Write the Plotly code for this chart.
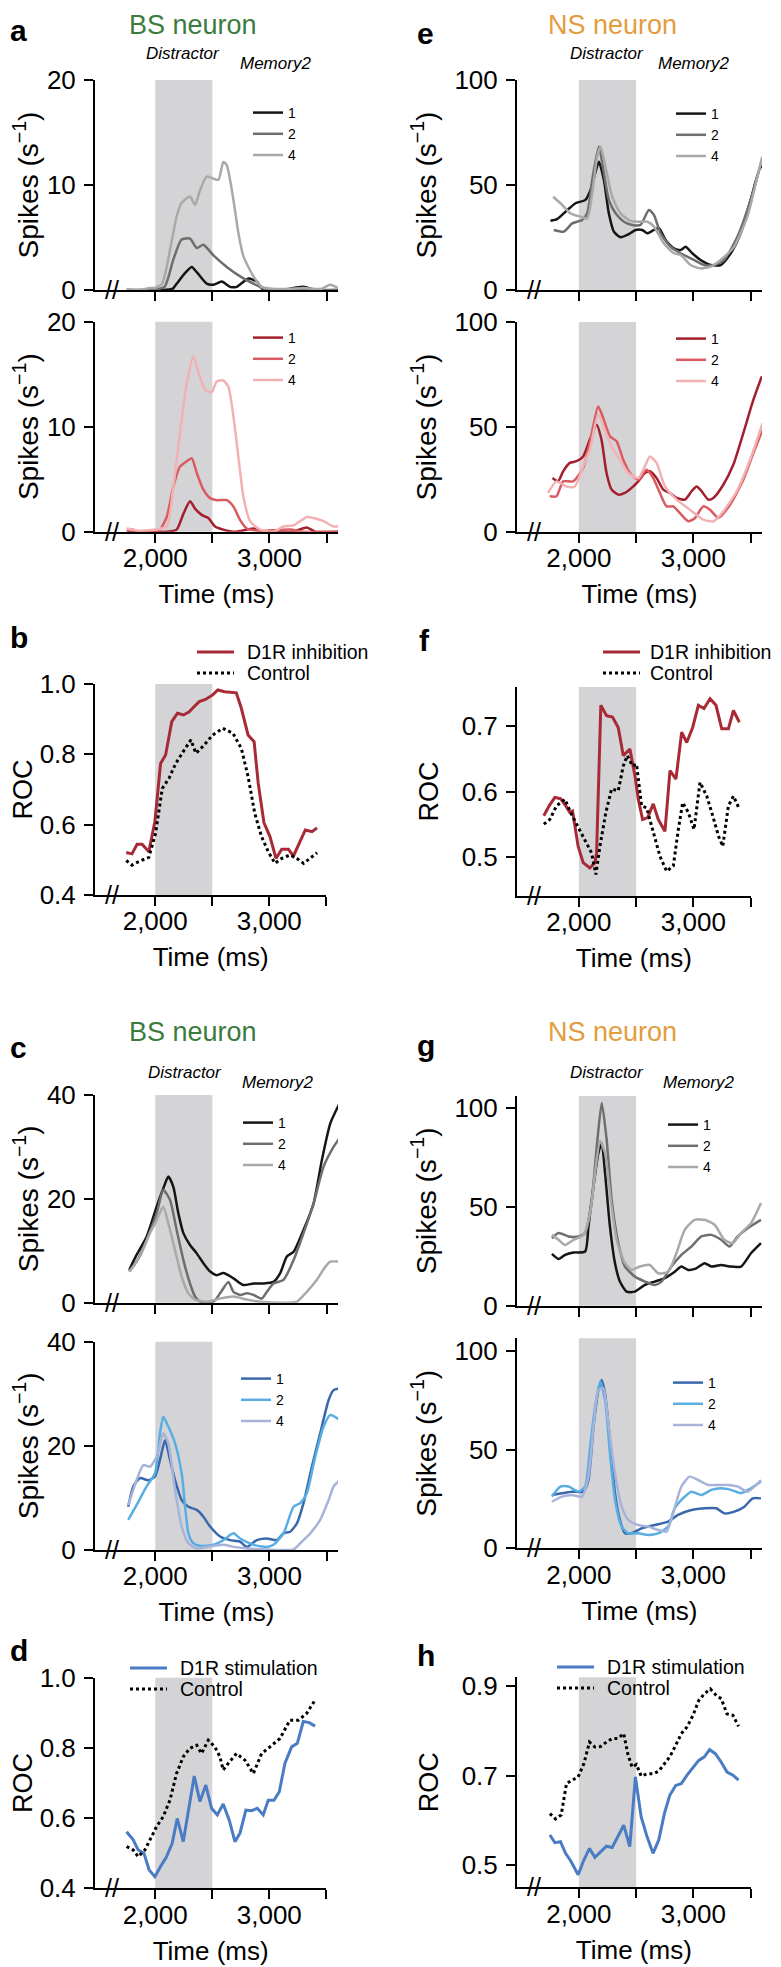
import plotly.graph_objects as go

# The page body adds an 8px margin; the figure is sized/offset so that it fills the window exactly.
OFF = 8
W, H = 781 - OFF, 1967 - OFF
FONT = "Liberation Sans, Arial, Helvetica, sans-serif"


def PX(x):
    return (x - OFF) / W


def PY(y):
    return 1 - (y - OFF) / H


# ---------------- data (time in ms) ----------------
# a (top): BS neuron, control, loads 1 / 2 / 4
a_top_t1 = [1750, 1900, 2050, 2150, 2187, 2260, 2319, 2363, 2450, 2509, 2582, 2655, 2713, 2816, 2889, 2947, 3100, 3298, 3400, 3600]
a_top_v1 = [0, 0, 0, 0.1, 0.6, 1.6, 2.2, 1.7, 0.6, 0.5, 0.8, 0.3, 0.3, 1.1, 0.8, 0, 0, 0.3, 0, 0]
a_top_t2 = [1750, 1950, 2080, 2158, 2230, 2304, 2363, 2421, 2509, 2626, 2743, 2860, 2947, 3100, 3300, 3600]
a_top_v2 = [0, 0, 0.3, 2.9, 4.8, 4.9, 4.0, 4.3, 3.3, 2.2, 1.3, 0.6, 0.15, 0, 0, 0]
a_top_t4 = [1750, 1870, 1950, 2000, 2060, 2100, 2187, 2230, 2304, 2348, 2392, 2450, 2509, 2553, 2596, 2626, 2684, 2728, 2772, 2860, 2933, 3000, 3150, 3300, 3450, 3532, 3600]
a_top_v4 = [0, 0, 0.2, 0.2, 0.6, 2.2, 7.0, 8.3, 8.9, 8.1, 9.5, 10.8, 10.6, 10.5, 12.2, 11.9, 8.6, 5.4, 3.2, 1.3, 0.3, 0.15, 0.1, 0.2, 0.1, 0.5, 0.2]

# a (bottom): BS neuron, D1R inhibition
a_bot_t1 = [1750, 2100, 2187, 2246, 2304, 2348, 2406, 2465, 2523, 2596, 2700, 2860, 2950, 3200, 3327, 3400, 3600]
a_bot_v1 = [0, 0, 0.2, 1.7, 2.9, 2.2, 1.6, 1.3, 0.5, 0.2, 0, 0.3, 0, 0, 0.4, 0, 0]
a_bot_t2 = [1750, 1800, 1850, 2000, 2041, 2100, 2158, 2216, 2275, 2319, 2363, 2421, 2480, 2538, 2626, 2684, 2743, 2801, 2900, 3181, 3300, 3600]
a_bot_v2 = [0.2, 0.2, 0, 0, 0.2, 1.4, 4.3, 6.2, 6.7, 7.0, 5.6, 4.0, 3.2, 3.0, 3.0, 2.4, 1.1, 0.3, 0.1, 0.2, 0, 0]
a_bot_t4 = [1750, 1850, 2000, 2100, 2158, 2216, 2275, 2333, 2377, 2436, 2494, 2538, 2596, 2640, 2684, 2728, 2772, 2830, 2918, 3035, 3123, 3211, 3327, 3386, 3474, 3561, 3605]
a_bot_v4 = [0.3, 0.1, 0.2, 0.5, 4.3, 9.4, 14.1, 16.7, 15.2, 13.5, 13.3, 14.3, 14.4, 13.8, 11.0, 7.1, 3.3, 1.0, 0.2, 0, 0.5, 0.6, 1.4, 1.3, 1.0, 0.5, 0.5]

# b: ROC, BS neuron
b_drug_t = [1746, 1796, 1841, 1885, 1944, 1997, 2047, 2091, 2145, 2195, 2248, 2298, 2342, 2386, 2440, 2504, 2549, 2608, 2711, 2755, 2814, 2867, 2903, 2953, 3006, 3059, 3109, 3168, 3212, 3271, 3316, 3375, 3419]
b_drug_v = [0.521, 0.517, 0.544, 0.544, 0.523, 0.609, 0.774, 0.798, 0.893, 0.917, 0.912, 0.921, 0.936, 0.950, 0.956, 0.969, 0.983, 0.978, 0.975, 0.931, 0.855, 0.836, 0.718, 0.606, 0.566, 0.504, 0.530, 0.530, 0.511, 0.556, 0.585, 0.580, 0.591]
b_ctl_t = [1746, 1796, 1855, 1944, 2003, 2062, 2121, 2180, 2254, 2313, 2357, 2416, 2504, 2593, 2681, 2755, 2814, 2873, 2932, 2991, 3050, 3109, 3183, 3242, 3301, 3360, 3419]
b_ctl_v = [0.498, 0.485, 0.495, 0.507, 0.575, 0.703, 0.732, 0.774, 0.812, 0.841, 0.803, 0.822, 0.855, 0.874, 0.860, 0.817, 0.737, 0.632, 0.566, 0.523, 0.490, 0.504, 0.514, 0.504, 0.490, 0.504, 0.520]

# c (top): BS neuron, control
c_top_t1 = [1772, 1836, 1924, 2012, 2070, 2114, 2158, 2202, 2246, 2304, 2363, 2421, 2480, 2538, 2596, 2684, 2772, 2860, 2947, 3035, 3094, 3152, 3211, 3298, 3386, 3459, 3532, 3614]
c_top_v1 = [6.3, 9.2, 12.7, 18.5, 22, 24.3, 22.3, 17.2, 13.4, 11.1, 9.5, 7.6, 6, 5.3, 5.7, 4.7, 3.4, 3.7, 3.7, 4, 5.7, 8.9, 9.8, 14, 19.1, 27.5, 34.5, 38.4]
c_top_t2 = [1772, 1836, 1924, 2012, 2070, 2129, 2187, 2246, 2304, 2348, 2392, 2509, 2567, 2640, 2684, 2743, 2801, 2860, 2933, 2977, 3035, 3123, 3211, 3298, 3386, 3474, 3561, 3614]
c_top_v2 = [6, 7.9, 12.1, 17.2, 21.7, 19.8, 14, 8.2, 3.7, 1.2, 0.2, 0.2, 1.8, 4, 2.1, 1.5, 1.8, 1.5, 0.8, 2.1, 3.7, 4.4, 8.2, 13.4, 19.1, 26.2, 30, 31.7]
c_top_t4 = [1772, 1866, 1953, 2012, 2070, 2114, 2173, 2231, 2290, 2348, 2450, 2567, 2684, 2801, 2918, 3152, 3240, 3327, 3415, 3488, 3532, 3614]
c_top_v4 = [6, 8.9, 13.4, 15.9, 18.5, 15.3, 10.1, 5, 1.8, 0.6, 0.2, 0.8, 1.2, 0.6, 0.2, 0, 0.2, 2.1, 4.4, 6.9, 7.9, 7.9]

# c (bottom): BS neuron, D1R stimulation
c_bot_t1 = [1763, 1807, 1866, 1939, 1997, 2041, 2085, 2129, 2173, 2231, 2290, 2363, 2421, 2480, 2567, 2655, 2743, 2801, 2889, 2977, 3064, 3123, 3181, 3240, 3298, 3371, 3444, 3518, 3561, 3614]
c_bot_v1 = [8.3, 12.2, 13.8, 13.4, 14.1, 17.3, 21.1, 17.3, 13.4, 9.6, 8.3, 7.7, 6.4, 4.5, 2.6, 1.9, 1.6, 0.6, 1.9, 2.2, 1.9, 3.2, 3.5, 5.1, 9, 16, 22.4, 28.8, 30.7, 31]
c_bot_t2 = [1763, 1836, 1924, 1997, 2041, 2070, 2114, 2173, 2231, 2290, 2333, 2392, 2509, 2596, 2684, 2743, 2860, 2977, 3035, 3123, 3211, 3269, 3327, 3401, 3474, 3532, 3614]
c_bot_v2 = [5.8, 8.6, 12.2, 14.7, 22.4, 25.6, 23.7, 20.5, 14.7, 3.2, 1.3, 0.8, 1, 1.9, 3.2, 2.2, 1, 0.6, 1, 3.2, 8.3, 9, 10.9, 17.9, 23.7, 25.9, 25]
c_bot_t4 = [1763, 1836, 1895, 1953, 2012, 2070, 2114, 2173, 2231, 2290, 2363, 2450, 2596, 2684, 2801, 2977, 3211, 3269, 3357, 3444, 3518, 3561, 3614]
c_bot_v4 = [8.6, 13.4, 16.3, 16, 17.9, 22.4, 20.5, 11.5, 4.5, 1.3, 0.3, 0.6, 1, 0.6, 0.3, 0.1, 0.1, 1.3, 3.2, 5.8, 9.6, 12.2, 13.4]

# d: ROC, BS neuron
d_drug_t = [1749, 1807, 1851, 1901, 1947, 1997, 2047, 2099, 2149, 2193, 2246, 2295, 2342, 2392, 2444, 2494, 2544, 2596, 2649, 2699, 2743, 2795, 2845, 2895, 2947, 2991, 3041, 3088, 3137, 3196, 3246, 3298, 3351, 3401]
d_drug_v = [0.561, 0.538, 0.509, 0.500, 0.452, 0.433, 0.462, 0.490, 0.528, 0.599, 0.533, 0.632, 0.720, 0.647, 0.694, 0.628, 0.609, 0.640, 0.594, 0.533, 0.557, 0.623, 0.621, 0.628, 0.609, 0.651, 0.651, 0.675, 0.756, 0.803, 0.813, 0.875, 0.872, 0.862]
d_ctl_t = [1749, 1807, 1851, 1909, 1968, 2012, 2070, 2129, 2187, 2246, 2304, 2363, 2406, 2465, 2523, 2567, 2596, 2640, 2713, 2787, 2860, 2933, 3006, 3094, 3181, 3255, 3327, 3401]
d_ctl_v = [0.519, 0.509, 0.490, 0.509, 0.547, 0.576, 0.604, 0.651, 0.727, 0.775, 0.799, 0.808, 0.784, 0.822, 0.803, 0.775, 0.737, 0.756, 0.784, 0.765, 0.727, 0.784, 0.803, 0.827, 0.879, 0.879, 0.898, 0.936]

# e (top): NS neuron, control
e_top_t1 = [1752, 1810, 1898, 1971, 2058, 2102, 2146, 2175, 2219, 2262, 2306, 2364, 2423, 2496, 2554, 2598, 2656, 2700, 2758, 2831, 2889, 2933, 2991, 3064, 3152, 3239, 3327, 3414, 3501, 3589, 3612]
e_top_v1 = [33, 33.7, 38, 41.3, 42.9, 47.6, 56.3, 61.1, 52.4, 36.5, 27.8, 25.1, 26.2, 28.6, 28.6, 27, 28.6, 29.4, 23.8, 19.8, 19, 20.6, 17.5, 14.3, 11.9, 11.9, 17.5, 27, 42.9, 58.7, 57.9]
e_top_t2 = [1781, 1869, 1942, 2029, 2073, 2117, 2175, 2219, 2262, 2321, 2394, 2467, 2539, 2612, 2656, 2714, 2802, 2889, 2977, 3094, 3181, 3268, 3385, 3501, 3603]
e_top_v2 = [28.6, 27.8, 31.7, 33.3, 36.5, 52.4, 68.3, 55.6, 42.9, 36.5, 32.5, 31, 31, 38.1, 35.7, 27, 20.6, 17.5, 15.1, 11.9, 11.9, 14.3, 25.4, 42.9, 62.7]
e_top_t4 = [1776, 1840, 1927, 2015, 2073, 2117, 2160, 2190, 2233, 2292, 2364, 2437, 2510, 2598, 2656, 2743, 2831, 2889, 2977, 3064, 3152, 3239, 3356, 3472, 3560, 3603]
e_top_v4 = [44.4, 41.3, 36.5, 34.9, 34.1, 46, 63.5, 68.3, 58.7, 44.4, 36.5, 33.3, 32.5, 32.5, 30.2, 22.2, 17.5, 16.7, 11.9, 10.3, 11.1, 14.3, 20.6, 34.9, 54, 63.5]

# e (bottom): NS neuron, D1R inhibition
e_bot_t1 = [1770, 1819, 1863, 1921, 1980, 2038, 2096, 2155, 2198, 2242, 2286, 2344, 2402, 2461, 2519, 2577, 2621, 2679, 2738, 2796, 2854, 2927, 2985, 3029, 3073, 3131, 3175, 3262, 3350, 3437, 3525, 3598]
e_bot_v1 = [25.7, 24.1, 28.9, 32.9, 33.7, 36, 44, 51.1, 44, 28.1, 20.2, 17.8, 18.6, 21, 24.1, 28.1, 28.9, 25.7, 20.2, 18.6, 16.2, 15.4, 19.4, 21.7, 19.4, 15.4, 16.2, 22.5, 32.1, 47.1, 63, 74.1]
e_bot_t2 = [1746, 1805, 1863, 1950, 2038, 2096, 2169, 2213, 2271, 2330, 2388, 2446, 2519, 2592, 2650, 2708, 2767, 2825, 2883, 2956, 3015, 3087, 3146, 3219, 3321, 3437, 3525, 3606]
e_bot_v2 = [17, 17, 24.1, 24.1, 30.5, 42.4, 59.8, 54.3, 45.6, 43.2, 34.4, 28.1, 24.9, 29.7, 25.7, 18.6, 12.2, 12.2, 9, 5.1, 6.7, 12.2, 10.6, 6.7, 13, 24.9, 37.6, 48.7]
e_bot_t4 = [1732, 1805, 1892, 1965, 2038, 2096, 2169, 2227, 2286, 2359, 2432, 2519, 2577, 2621, 2679, 2752, 2854, 2971, 3087, 3175, 3262, 3379, 3496, 3606]
e_bot_v4 = [18.6, 24.1, 21.7, 21.7, 31.3, 39.2, 55.9, 48.7, 40.8, 34.4, 28.1, 25.7, 31.3, 36, 32.9, 21.7, 15.4, 10.6, 5.9, 5.1, 9.8, 19.4, 34.4, 51.9]

# f: ROC, NS neuron
f_drug_t = [1694, 1741, 1790, 1840, 1886, 1921, 1945, 1965, 1994, 2038, 2096, 2140, 2155, 2192, 2242, 2294, 2344, 2388, 2446, 2490, 2519, 2557, 2601, 2650, 2694, 2752, 2796, 2848, 2898, 2942, 2994, 3044, 3093, 3146, 3198, 3248, 3306, 3350, 3402]
f_drug_v = [0.563, 0.578, 0.591, 0.589, 0.578, 0.568, 0.570, 0.547, 0.516, 0.491, 0.483, 0.491, 0.506, 0.732, 0.716, 0.714, 0.698, 0.655, 0.665, 0.624, 0.588, 0.557, 0.560, 0.581, 0.557, 0.539, 0.632, 0.619, 0.691, 0.675, 0.698, 0.732, 0.727, 0.742, 0.732, 0.696, 0.696, 0.724, 0.706]
f_ctl_t = [1694, 1746, 1805, 1878, 1936, 1994, 2052, 2111, 2149, 2184, 2236, 2286, 2344, 2388, 2423, 2469, 2504, 2548, 2592, 2650, 2708, 2767, 2825, 2869, 2907, 2956, 3006, 3058, 3117, 3169, 3219, 3257, 3306, 3350, 3402]
f_ctl_v = [0.550, 0.557, 0.578, 0.588, 0.565, 0.545, 0.527, 0.506, 0.473, 0.516, 0.568, 0.604, 0.601, 0.639, 0.655, 0.639, 0.642, 0.578, 0.575, 0.537, 0.501, 0.478, 0.486, 0.542, 0.583, 0.568, 0.542, 0.614, 0.593, 0.563, 0.532, 0.516, 0.578, 0.593, 0.573]

# g (top): NS neuron, control
g_top_t1 = [1765, 1823, 1881, 1954, 2055, 2084, 2128, 2171, 2200, 2229, 2272, 2316, 2359, 2417, 2490, 2577, 2664, 2751, 2838, 2896, 2954, 3026, 3099, 3157, 3243, 3316, 3417, 3504, 3591]
g_top_v1 = [26.2, 23.6, 25.7, 26.9, 27.4, 40, 60.3, 77.2, 82.3, 67.1, 40, 21.5, 12.2, 7.1, 7.1, 10.5, 12.2, 13.9, 17.2, 19.8, 18.1, 18.9, 21.5, 19.8, 20.6, 19.8, 19.8, 26.5, 31.6]
g_top_t2 = [1765, 1823, 1910, 1997, 2055, 2113, 2157, 2200, 2243, 2287, 2345, 2403, 2490, 2577, 2664, 2722, 2809, 2896, 2983, 3070, 3157, 3243, 3316, 3388, 3475, 3591]
g_top_v2 = [34.1, 36.7, 35, 35, 36.7, 53.6, 80.6, 102.5, 84, 53.6, 31.6, 19.8, 14.7, 12.2, 10.5, 12.2, 19.8, 25.7, 29.9, 35, 35.8, 33.3, 29.9, 35, 39.2, 43.4]
g_top_t4 = [1765, 1823, 1881, 1954, 2041, 2099, 2142, 2186, 2229, 2272, 2330, 2403, 2461, 2533, 2620, 2693, 2780, 2852, 2925, 3012, 3099, 3186, 3272, 3345, 3417, 3504, 3591]
g_top_v4 = [35.8, 33.3, 30.7, 33.3, 35.8, 46.8, 67.1, 83.1, 77.2, 56.9, 33.3, 21.5, 18.1, 19.8, 20.6, 16.4, 17.2, 26.5, 38.3, 43.4, 43.4, 40.9, 33.3, 31.6, 36.7, 41.7, 51.9]

# g (bottom): NS neuron, D1R stimulation
g_bot_t1 = [1765, 1852, 1939, 2041, 2084, 2128, 2171, 2200, 2229, 2272, 2316, 2359, 2403, 2461, 2548, 2664, 2780, 2867, 2983, 3099, 3200, 3272, 3359, 3446, 3519, 3591]
g_bot_v1 = [27, 27.9, 28.7, 28.7, 34.6, 61.5, 80.1, 85.3, 78.4, 54.9, 27.9, 14.4, 7.6, 7.6, 10.1, 11.8, 13.5, 16.9, 19.4, 20.3, 20.3, 17.7, 18.6, 21.1, 25.3, 25.3]
g_bot_t2 = [1765, 1838, 1910, 1997, 2055, 2099, 2142, 2186, 2229, 2272, 2316, 2374, 2432, 2519, 2606, 2693, 2780, 2838, 2896, 2983, 3070, 3157, 3243, 3330, 3417, 3504, 3591]
g_bot_v2 = [26.2, 31.3, 31.3, 28.7, 31.3, 51.6, 71.8, 84.5, 75.2, 48.2, 24.5, 11, 7.6, 7.6, 6.8, 7.6, 11, 20.3, 24.5, 28.7, 27, 29.6, 30.4, 29.6, 27.9, 30.4, 33.8]
g_bot_t4 = [1765, 1852, 1939, 2026, 2084, 2128, 2171, 2214, 2258, 2316, 2374, 2432, 2519, 2606, 2693, 2765, 2823, 2896, 2968, 3041, 3128, 3214, 3301, 3388, 3475, 3591]
g_bot_v4 = [23.6, 26.2, 27, 26.2, 36.3, 61.5, 80.1, 81.1, 63.3, 38, 21.1, 14.4, 11.8, 11, 9.3, 8.4, 17.7, 31.3, 36.3, 34.6, 32.1, 32.1, 32.1, 31.3, 28.7, 34.6]

# h: ROC, NS neuron
h_drug_t = [1747, 1791, 1840, 1884, 1927, 1956, 1994, 2044, 2093, 2140, 2189, 2241, 2291, 2340, 2392, 2445, 2494, 2544, 2596, 2648, 2698, 2747, 2794, 2846, 2895, 2945, 2997, 3047, 3096, 3142, 3192, 3244, 3294, 3346, 3395]
h_drug_v = [0.567, 0.550, 0.552, 0.526, 0.510, 0.496, 0.478, 0.511, 0.537, 0.517, 0.530, 0.542, 0.539, 0.563, 0.589, 0.541, 0.697, 0.608, 0.563, 0.526, 0.556, 0.615, 0.656, 0.678, 0.682, 0.701, 0.719, 0.734, 0.742, 0.758, 0.749, 0.730, 0.708, 0.701, 0.690]
h_ctl_t = [1747, 1797, 1846, 1892, 1942, 1994, 2044, 2093, 2140, 2189, 2241, 2291, 2340, 2392, 2427, 2465, 2503, 2544, 2596, 2648, 2698, 2747, 2794, 2846, 2895, 2945, 2997, 3047, 3096, 3148, 3201, 3244, 3294, 3346, 3395]
h_ctl_v = [0.615, 0.603, 0.612, 0.682, 0.690, 0.697, 0.727, 0.775, 0.764, 0.765, 0.775, 0.783, 0.783, 0.794, 0.749, 0.719, 0.725, 0.699, 0.704, 0.704, 0.710, 0.725, 0.742, 0.768, 0.794, 0.809, 0.835, 0.868, 0.883, 0.894, 0.879, 0.872, 0.838, 0.835, 0.810]

LOAD_NAMES = ["1", "2", "4"]
X_MAJOR = [2000, 3000]
X_MAJOR_TEXT = ["2,000", "3,000"]
X_MINOR = [2500, 3500]
DISTRACTOR = (2000, 2500)

GRAYS = ["#151515", "#6e6e6e", "#a9a9a9"]
REDS = ["#a31f2e", "#d95b5f", "#f2b2b3"]
BLUES = ["#3a68ad", "#58ade3", "#a8b3da"]
ROC_RED = "#a72a36"
ROC_BLUE = "#4a7cc4"
SHADE = "#d4d4d6"
GREEN = "#3c7b3e"
ORANGE = "#e39c3e"

# ---------------- panel layout (pixel boxes) ----------------
L_SP = ((95, 338), (1472, 3600))
L_ROC = ((95, 326.3), (1472, 3500))
R_SP = ((517, 762), (1460, 3600))
R_ROC = ((517, 750.6), (1460, 3500))

panels = {
    1: dict(xs=L_SP, yp=(80, 290), yr=(0, 20), yt=[0, 10, 20], fmt=None, xlab=False, kind="sp"),
    2: dict(xs=L_SP, yp=(321.7, 531.7), yr=(0, 20), yt=[0, 10, 20], fmt=None, xlab=True, kind="sp"),
    3: dict(xs=L_ROC, yp=(684, 895), yr=(0.4, 1.0), yt=[0.4, 0.6, 0.8, 1.0], fmt=".1f", xlab=True, kind="roc"),
    4: dict(xs=L_SP, yp=(1095, 1302.7), yr=(0, 40), yt=[0, 20, 40], fmt=None, xlab=False, kind="sp"),
    5: dict(xs=L_SP, yp=(1341.7, 1550), yr=(0, 40), yt=[0, 20, 40], fmt=None, xlab=True, kind="sp"),
    6: dict(xs=L_ROC, yp=(1677.7, 1888.3), yr=(0.4, 1.0), yt=[0.4, 0.6, 0.8, 1.0], fmt=".1f", xlab=True, kind="roc"),
    7: dict(xs=R_SP, yp=(80, 290), yr=(0, 100), yt=[0, 50, 100], fmt=None, xlab=False, kind="sp"),
    8: dict(xs=R_SP, yp=(322, 532), yr=(0, 100), yt=[0, 50, 100], fmt=None, xlab=True, kind="sp"),
    9: dict(xs=R_ROC, yp=(687, 896), yr=(0.44, 0.76), yt=[0.5, 0.6, 0.7], fmt=".1f", xlab=True, kind="roc"),
    10: dict(xs=R_SP, yp=(1096, 1305.7), yr=(0, 106), yt=[0, 50, 100], fmt=None, xlab=False, kind="sp"),
    11: dict(xs=R_SP, yp=(1338.3, 1548.3), yr=(0, 106.4), yt=[0, 50, 100], fmt=None, xlab=True, kind="sp"),
    12: dict(xs=R_ROC, yp=(1677.3, 1887.3), yr=(0.45, 0.92), yt=[0.5, 0.7, 0.9], fmt=".1f", xlab=True, kind="roc"),
}

spike_series = {
    1: ([a_top_t1, a_top_t2, a_top_t4], [a_top_v1, a_top_v2, a_top_v4], GRAYS),
    2: ([a_bot_t1, a_bot_t2, a_bot_t4], [a_bot_v1, a_bot_v2, a_bot_v4], REDS),
    4: ([c_top_t1, c_top_t2, c_top_t4], [c_top_v1, c_top_v2, c_top_v4], GRAYS),
    5: ([c_bot_t1, c_bot_t2, c_bot_t4], [c_bot_v1, c_bot_v2, c_bot_v4], BLUES),
    7: ([e_top_t1, e_top_t2, e_top_t4], [e_top_v1, e_top_v2, e_top_v4], GRAYS),
    8: ([e_bot_t1, e_bot_t2, e_bot_t4], [e_bot_v1, e_bot_v2, e_bot_v4], REDS),
    10: ([g_top_t1, g_top_t2, g_top_t4], [g_top_v1, g_top_v2, g_top_v4], GRAYS),
    11: ([g_bot_t1, g_bot_t2, g_bot_t4], [g_bot_v1, g_bot_v2, g_bot_v4], BLUES),
}
roc_series = {
    3: (b_drug_t, b_drug_v, b_ctl_t, b_ctl_v, ROC_RED, "D1R inhibition"),
    6: (d_drug_t, d_drug_v, d_ctl_t, d_ctl_v, ROC_BLUE, "D1R stimulation"),
    9: (f_drug_t, f_drug_v, f_ctl_t, f_ctl_v, ROC_RED, "D1R inhibition"),
    12: (h_drug_t, h_drug_v, h_ctl_t, h_ctl_v, ROC_BLUE, "D1R stimulation"),
}

# legend anchor positions (pixels): line start x, first row y
spike_legend_pos = {1: (250, 112), 2: (250, 337), 4: (240, 1122), 5: (238, 1378),
                    7: (673, 113), 8: (673, 338), 10: (665, 1124), 11: (670, 1382)}
roc_legend_pos = {3: (197, 245, 652), 6: (130, 178, 1668), 9: (603, 648, 652), 12: (557, 605, 1667)}


def xid(i):
    return "x" if i == 1 else f"x{i}"


def yid(i):
    return "y" if i == 1 else f"y{i}"


fig = go.Figure()
layout = dict(
    width=W, height=H, margin=dict(l=0, r=0, t=0, b=0, autoexpand=False),
    paper_bgcolor="white", plot_bgcolor="white",
    font=dict(family=FONT, color="black"),
    showlegend=True,
)
shapes = []
annotations = []

axis_common = dict(showline=True, linecolor="black", linewidth=2, ticks="outside",
                   ticklen=9, tickwidth=2, tickcolor="black", showgrid=False,
                   zeroline=False, automargin=False,
                   tickfont=dict(size=26, family=FONT, color="black"))

legend_idx = 0
for i, p in panels.items():
    (xl, xr), xrange = p["xs"]
    yt_, yb_ = p["yp"]
    xa = dict(axis_common, domain=[PX(xl), PX(xr)], range=list(xrange), anchor=yid(i),
              tickmode="array", tickvals=X_MAJOR, ticktext=X_MAJOR_TEXT,
              showticklabels=p["xlab"], ticklabelstandoff=-7,
              minor=dict(tickmode="array", tickvals=X_MINOR, ticks="outside", ticklen=9,
                         tickwidth=2, tickcolor="black", showgrid=False))
    if p["xlab"]:
        xa["title"] = dict(text="Time (ms)", font=dict(size=26, family=FONT), standoff=13)
    ya = dict(axis_common, domain=[PY(yb_), PY(yt_)], range=list(p["yr"]), anchor=xid(i),
              tickmode="array", tickvals=p["yt"], ticklabelstandoff=3)
    if p["fmt"]:
        ya["tickformat"] = p["fmt"]
    if p["kind"] == "sp":
        ya["title"] = dict(text="Spikes (s<sup>−1</sup>)", font=dict(size=28, family=FONT), standoff=10)
    else:
        ya["title"] = dict(text="ROC", font=dict(size=27, family=FONT), standoff=15)
    layout["xaxis" if i == 1 else f"xaxis{i}"] = xa
    layout["yaxis" if i == 1 else f"yaxis{i}"] = ya

    # distractor period shading
    shapes.append(dict(type="rect", xref=xid(i), yref=f"{yid(i)} domain", x0=DISTRACTOR[0],
                       x1=DISTRACTOR[1], y0=0, y1=1, fillcolor=SHADE, line=dict(width=0),
                       layer="below"))
    # axis break mark
    annotations.append(dict(xref=xid(i), yref=yid(i), x=xrange[0] + 150, y=p["yr"][0],
                            text="//", showarrow=False, font=dict(size=25, family=FONT),
                            xanchor="center", yanchor="middle"))

    if i in spike_series:
        ts, vs, cols = spike_series[i]
        legend_idx += 1
        lname = "legend" if legend_idx == 1 else f"legend{legend_idx}"
        for t, v, c, nm in zip(ts, vs, cols, LOAD_NAMES):
            fig.add_trace(go.Scatter(x=t, y=v, mode="lines", name=nm,
                                     line=dict(color=c, width=2.5, shape="spline", smoothing=0.6),
                                     xaxis=xid(i), yaxis=yid(i), legend=lname))
        lx, ly = spike_legend_pos[i]
        layout[lname] = dict(x=PX(lx - 2), y=PY(ly - 15), xanchor="left", yanchor="top",
                             bgcolor="rgba(0,0,0,0)", font=dict(size=14, family=FONT),
                             itemwidth=30, tracegroupgap=0)
    else:
        dt, dv, ct, cv, col, label = roc_series[i]
        fig.add_trace(go.Scatter(x=dt, y=dv, mode="lines", name=label, showlegend=False,
                                 line=dict(color=col, width=3), xaxis=xid(i), yaxis=yid(i)))
        fig.add_trace(go.Scatter(x=ct, y=cv, mode="lines", name="Control", showlegend=False,
                                 line=dict(color="black", width=3, dash="dot"),
                                 xaxis=xid(i), yaxis=yid(i)))
        lx, tx, ly = roc_legend_pos[i]
        for k, (nm, col_, dash) in enumerate([(label, col, "solid"), ("Control", "black", "dot")]):
            yy = ly + 21 * k
            shapes.append(dict(type="line", xref="paper", yref="paper", x0=PX(lx), x1=PX(lx + 37),
                               y0=PY(yy), y1=PY(yy), line=dict(color=col_, width=3, dash=dash)))
            annotations.append(dict(xref="paper", yref="paper", x=PX(tx), y=PY(yy), text=nm,
                                    showarrow=False, xanchor="left", yanchor="middle",
                                    font=dict(size=19.5, family=FONT)))

# headers
for (txt, col, cx, cy) in [("BS neuron", GREEN, 193, 25), ("NS neuron", ORANGE, 612, 25),
                           ("BS neuron", GREEN, 193, 1032), ("NS neuron", ORANGE, 612, 1032)]:
    annotations.append(dict(xref="paper", yref="paper", x=PX(cx), y=PY(cy), text=txt,
                            showarrow=False, xanchor="center", yanchor="middle",
                            font=dict(size=27, color=col, family=FONT)))
# period labels
for cx, cy in [(183, 54), (607, 54), (185, 1072), (607, 1072)]:
    annotations.append(dict(xref="paper", yref="paper", x=PX(cx), y=PY(cy), text="<i>Distractor</i>",
                            showarrow=False, xanchor="center", yanchor="middle",
                            font=dict(size=17, family=FONT)))
for cx, cy in [(275, 64), (693, 64), (277, 1082), (698, 1082)]:
    annotations.append(dict(xref="paper", yref="paper", x=PX(cx), y=PY(cy), text="<i>Memory2</i>",
                            showarrow=False, xanchor="center", yanchor="middle",
                            font=dict(size=17, family=FONT)))
# panel letters (left x, baseline y)
for txt, lx, by in [("a", 8, 40), ("b", 8, 647), ("c", 8, 1057), ("d", 8, 1660),
                    ("e", 415, 43), ("f", 417, 650), ("g", 415, 1055), ("h", 415, 1665)]:
    annotations.append(dict(xref="paper", yref="paper", x=PX(lx), y=PY(by - 10), text=f"<b>{txt}</b>",
                            showarrow=False, xanchor="left", yanchor="middle",
                            font=dict(size=30, family=FONT)))

layout["shapes"] = shapes
layout["annotations"] = annotations
fig.update_layout(**layout)
fig.write_html("out.html")
